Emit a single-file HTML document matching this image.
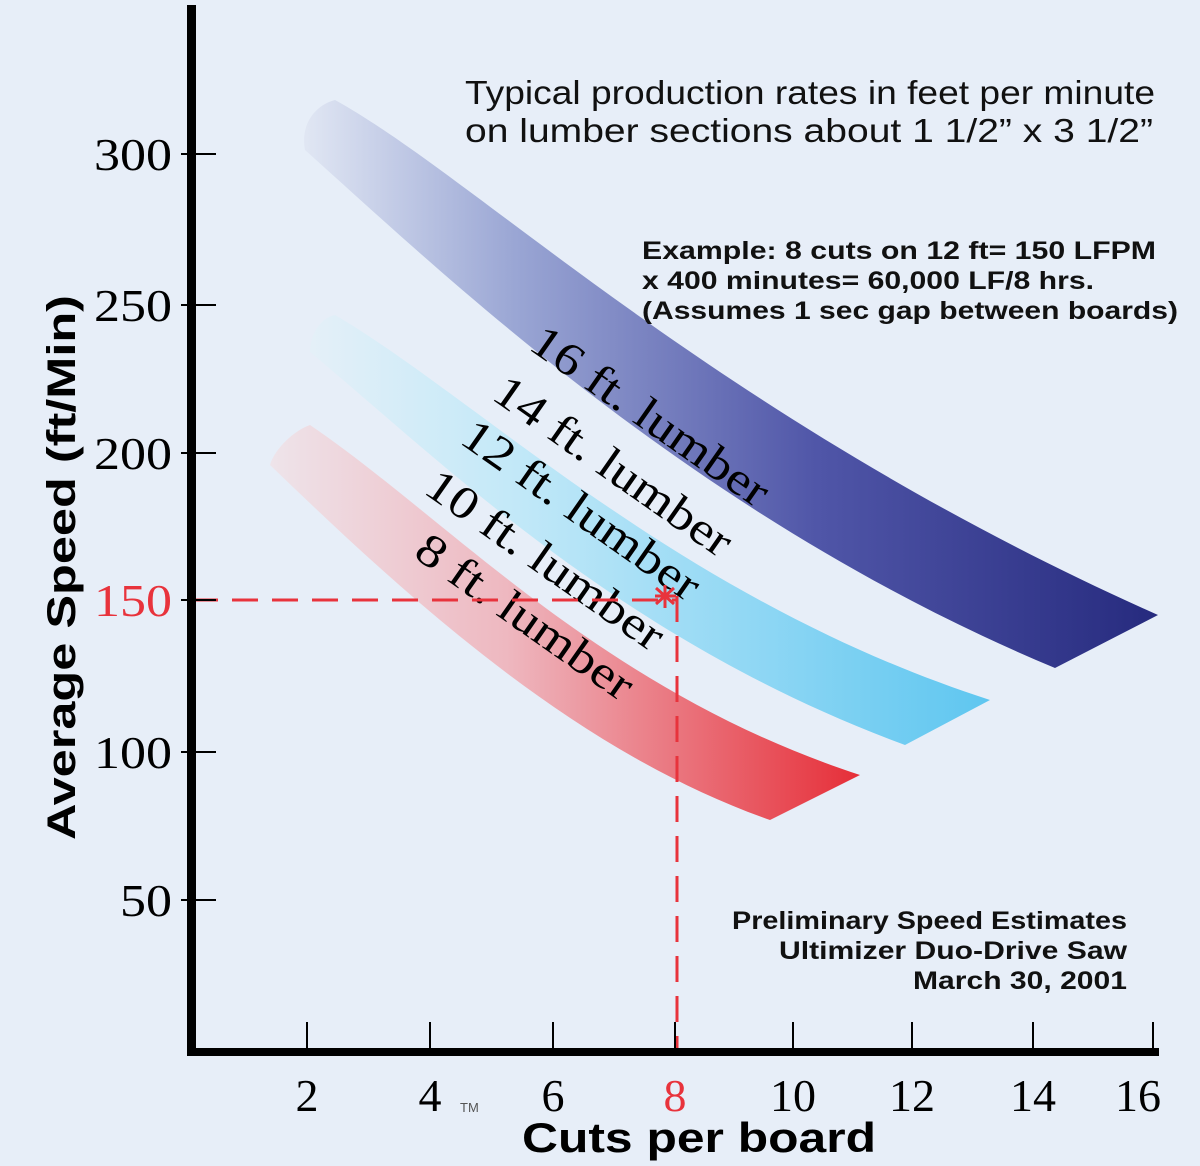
<!DOCTYPE html>
<html><head><meta charset="utf-8"><style>
html,body{margin:0;padding:0;background:#e7eef8;}
svg{display:block}
</style></head><body>
<svg width="1200" height="1166" viewBox="0 0 1200 1166" xmlns="http://www.w3.org/2000/svg">
<defs>
<linearGradient id="gb" x1="300" y1="0" x2="1160" y2="0" gradientUnits="userSpaceOnUse">
<stop offset="0" stop-color="#e2e8f4"/><stop offset="0.25" stop-color="#9aa6d4"/><stop offset="0.6" stop-color="#5056a8"/><stop offset="1" stop-color="#262a7e"/></linearGradient>
<linearGradient id="gl" x1="300" y1="0" x2="990" y2="0" gradientUnits="userSpaceOnUse">
<stop offset="0" stop-color="#e6f0f8"/><stop offset="0.3" stop-color="#c4e9f8"/><stop offset="1" stop-color="#5ec6f0"/></linearGradient>
<linearGradient id="gr" x1="270" y1="0" x2="860" y2="0" gradientUnits="userSpaceOnUse">
<stop offset="0" stop-color="#eee4ea"/><stop offset="0.4" stop-color="#eeb8c0"/><stop offset="1" stop-color="#e62e38"/></linearGradient>
</defs>
<rect width="1200" height="1166" fill="#e7eef8"/>
<path d="M335,100 C480,180 720,420 1158,615 L1055,668 C700,520 450,280 305,150 C300,125 315,105 335,100 Z" fill="url(#gb)"/>
<path d="M335,315 C480,400 680,600 990,700 L905,745 C620,640 440,460 310,352 C310,335 320,318 335,315 Z" fill="url(#gl)"/>
<path d="M310,425 C450,520 600,690 860,775 L770,820 C570,750 400,590 270,465 C275,448 295,430 310,425 Z" fill="url(#gr)"/>
<g font-family="Liberation Serif, serif" font-size="46" fill="#000">
<text transform="translate(527,348) rotate(35)" textLength="280" lengthAdjust="spacingAndGlyphs">16 ft. lumber</text>
<text transform="translate(490,398) rotate(35)" textLength="280" lengthAdjust="spacingAndGlyphs">14 ft. lumber</text>
<text transform="translate(458,442) rotate(35)" textLength="280" lengthAdjust="spacingAndGlyphs">12 ft. lumber</text>
<text transform="translate(422,492) rotate(35)" textLength="280" lengthAdjust="spacingAndGlyphs">10 ft. lumber</text>
<text transform="translate(412,556) rotate(35)" textLength="255" lengthAdjust="spacingAndGlyphs">8 ft. lumber</text>
</g>
<g stroke="#e8333c" stroke-width="3" stroke-dasharray="26,14" fill="none">
<line x1="192" y1="600" x2="676" y2="600"/>
<line x1="677" y1="596" x2="677" y2="1048"/>
</g>
<g stroke="#e8333c" stroke-width="3"><line x1="655" y1="596" x2="676" y2="596"/><line x1="665" y1="585" x2="665" y2="608"/><line x1="656" y1="588" x2="674" y2="604"/><line x1="674" y1="588" x2="656" y2="604"/></g>
<rect x="187" y="5" width="9" height="1051" fill="#000"/>
<rect x="187" y="1048" width="972" height="8" fill="#000"/>
<g stroke="#000" stroke-width="2">
<line x1="181" y1="154" x2="216" y2="154"/><line x1="181" y1="305" x2="216" y2="305"/>
<line x1="181" y1="453" x2="216" y2="453"/><line x1="181" y1="600" x2="216" y2="600"/>
<line x1="181" y1="752" x2="216" y2="752"/><line x1="181" y1="900" x2="216" y2="900"/>
<line x1="307" y1="1022" x2="307" y2="1050"/><line x1="430" y1="1022" x2="430" y2="1050"/>
<line x1="553" y1="1022" x2="553" y2="1050"/><line x1="675" y1="1022" x2="675" y2="1050"/>
<line x1="793" y1="1022" x2="793" y2="1050"/><line x1="912" y1="1022" x2="912" y2="1050"/>
<line x1="1033" y1="1022" x2="1033" y2="1050"/><line x1="1153" y1="1022" x2="1153" y2="1050"/>
</g>
<g font-family="Liberation Serif, serif" font-size="46" fill="#000" text-anchor="end">
<text x="172" y="170" textLength="78" lengthAdjust="spacingAndGlyphs">300</text><text x="172" y="321" textLength="78" lengthAdjust="spacingAndGlyphs">250</text><text x="172" y="469" textLength="78" lengthAdjust="spacingAndGlyphs">200</text>
<text x="172" y="616" fill="#e8333c" textLength="78" lengthAdjust="spacingAndGlyphs">150</text><text x="172" y="768" textLength="78" lengthAdjust="spacingAndGlyphs">100</text><text x="172" y="916" textLength="52" lengthAdjust="spacingAndGlyphs">50</text>
</g>
<g font-family="Liberation Serif, serif" font-size="46" fill="#000" text-anchor="middle">
<text x="307" y="1111">2</text><text x="430" y="1111">4</text><text x="553" y="1111">6</text>
<text x="675" y="1111" fill="#e8333c">8</text><text x="793" y="1111">10</text><text x="912" y="1111">12</text>
<text x="1033" y="1111">14</text><text x="1138" y="1111">16</text>
</g>
<text x="460" y="1112" font-family="Liberation Sans, sans-serif" font-size="13" fill="#555">TM</text>
<text x="522" y="1152" font-family="Liberation Sans, sans-serif" font-weight="bold" font-size="42" textLength="354" lengthAdjust="spacingAndGlyphs">Cuts per board</text>
<text transform="translate(75,840) rotate(-90)" font-family="Liberation Sans, sans-serif" font-weight="bold" font-size="40" textLength="545" lengthAdjust="spacingAndGlyphs">Average Speed (ft/Min)</text>
<g font-family="Liberation Sans, sans-serif" font-size="33" fill="#111">
<text x="465" y="104" textLength="690" lengthAdjust="spacingAndGlyphs">Typical production rates in feet per minute</text>
<text x="465" y="142" textLength="688" lengthAdjust="spacingAndGlyphs">on lumber sections about 1 1/2” x 3 1/2”</text>
</g>
<g font-family="Liberation Sans, sans-serif" font-size="25" font-weight="bold" fill="#111">
<text x="642" y="259" textLength="514" lengthAdjust="spacingAndGlyphs">Example: 8 cuts on 12 ft= 150 LFPM</text>
<text x="642" y="289" textLength="452" lengthAdjust="spacingAndGlyphs">x 400 minutes= 60,000 LF/8 hrs.</text>
<text x="642" y="319" textLength="536" lengthAdjust="spacingAndGlyphs">(Assumes 1 sec gap between boards)</text>
</g>
<g font-family="Liberation Sans, sans-serif" font-size="25" font-weight="bold" fill="#111">
<text x="732" y="929" textLength="395" lengthAdjust="spacingAndGlyphs">Preliminary Speed Estimates</text>
<text x="779" y="959" textLength="348" lengthAdjust="spacingAndGlyphs">Ultimizer Duo-Drive Saw</text>
<text x="913" y="989" textLength="214" lengthAdjust="spacingAndGlyphs">March 30, 2001</text>
</g>
</svg>
</body></html>
